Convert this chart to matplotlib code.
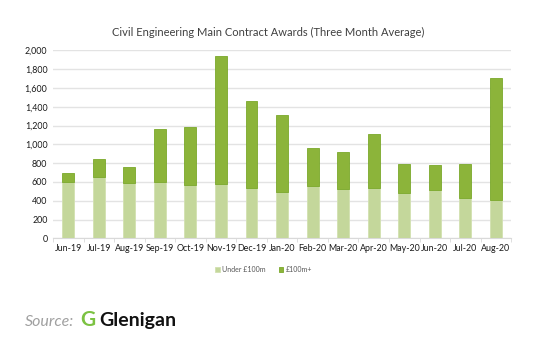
import numpy as np
import matplotlib.pyplot as plt

plt.rcParams['font.family'] = ['Lato', 'DejaVu Sans']

months = ['Jun-19', 'Jul-19', 'Aug-19', 'Sep-19', 'Oct-19', 'Nov-19', 'Dec-19', 'Jan-20',
          'Feb-20', 'Mar-20', 'Apr-20', 'May-20', 'Jun-20', 'Jul-20', 'Aug-20']
under_100m = [600, 655, 585, 600, 565, 575, 533, 497, 554, 525, 540, 480, 511, 433, 405]
total = [700, 840, 762, 1162, 1190, 1936, 1467, 1315, 963, 920, 1112, 795, 781, 795, 1706]
over_100m = [t - u for t, u in zip(total, under_100m)]

light = '#c4d79b'
dark = '#8cb43a'

fig = plt.figure(figsize=(5.52, 3.43), dpi=100)
ax = fig.add_axes([0.096, 0.305, 0.830, 0.548])

x = np.arange(len(months))
w = 0.39
ax.bar(x, under_100m, w, color=light, edgecolor='#d2e1b0', linewidth=0.6,
       label='Under £100m', zorder=3)
ax.bar(x, over_100m, w, bottom=under_100m, color=dark, edgecolor='#7aa82a',
       linewidth=0.6, label='£100m+', zorder=3)

ax.set_xlim(-0.5, len(months) - 0.5)
ax.set_ylim(0, 2000)
ax.set_yticks(np.arange(0, 2001, 200))
ax.set_yticklabels([f'{v:,}' for v in range(0, 2001, 200)])
ax.set_xticks(x)
ax.set_xticklabels(months)
ax.tick_params(axis='both', labelsize=6.4, colors='#1a1a1a', length=0, pad=4)
ax.set_xticks(np.arange(-0.5, len(months), 1), minor=True)
ax.tick_params(axis='x', which='minor', length=3, color='#d9d9d9')
ax.grid(axis='y', color='#e3e3e3', linewidth=1.0, zorder=0)
for s in ['top', 'right', 'left']:
    ax.spines[s].set_visible(False)
ax.spines['bottom'].set_color('#d9d9d9')

# chart title
fig.text(0.486, 0.904, 'Civil Engineering Main Contract Awards (Three Month Average)',
         fontsize=8.0, color='#404040', ha='center', va='center')

leg = ax.legend(loc='upper center', bbox_to_anchor=(0.46, -0.115), ncol=2,
                frameon=False, fontsize=5, handlelength=0.7, handleheight=0.7,
                columnspacing=1.8, handletextpad=0.4)
for t in leg.get_texts():
    t.set_color('#555555')

# source footer
fig.text(0.045, 0.05, 'Source:', fontsize=11.5, style='italic', color='#a0a0a0',
         va='baseline')
fig.text(0.145, 0.05, 'G', fontsize=15, weight='bold', color='#7cc242', va='baseline')
fig.text(0.179, 0.05, 'Glenigan', fontsize=14, weight='bold', color='#111111',
         va='baseline')

fig.savefig('out.png', dpi=100)
